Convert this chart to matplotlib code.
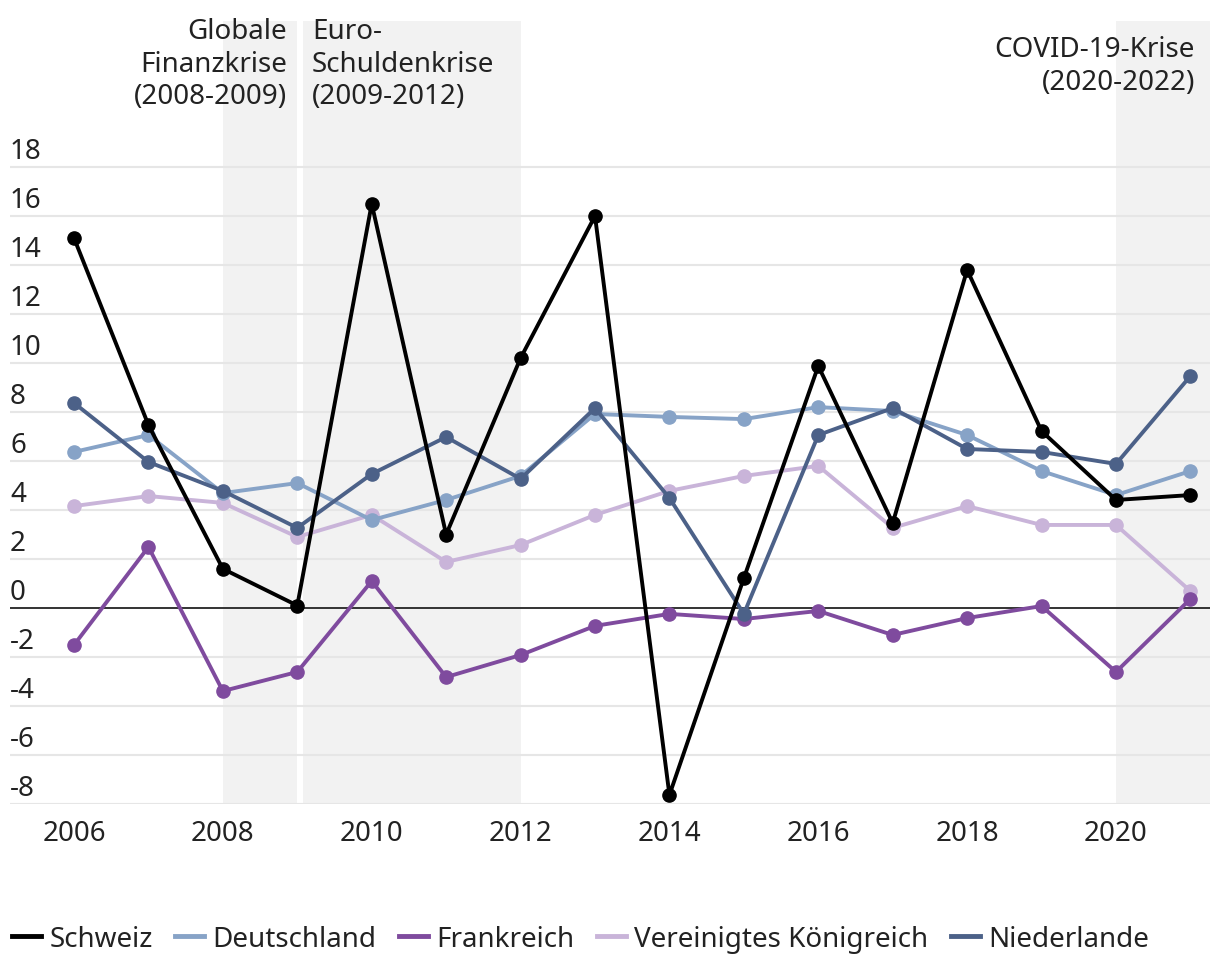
import matplotlib.pyplot as plt
from matplotlib.lines import Line2D
import matplotlib.transforms as mtransforms

plt.rcParams['font.family'] = ['Noto Sans', 'DejaVu Sans']

years = list(range(2006, 2022))

schweiz = [15.1, 7.47, 1.6, 0.1, 16.5, 3.0, 10.2, 16.0, -7.63, 1.22, 9.88, 3.47, 13.8, 7.22, 4.41, 4.61]
deutschland = [6.37, 7.06, 4.69, 5.1, 3.59, 4.41, 5.39, 7.92, 7.8, 7.71, 8.2, 8.04, 7.06, 5.59, 4.61, 5.59]
frankreich = [-1.51, 2.49, -3.39, -2.61, 1.1, -2.82, -1.92, -0.73, -0.24, -0.45, -0.12, -1.1, -0.41, 0.08, -2.61, 0.37]
uk = [4.16, 4.57, 4.29, 2.9, 3.8, 1.88, 2.57, 3.8, 4.78, 5.39, 5.8, 3.27, 4.16, 3.39, 3.39, 0.69]
niederlande = [8.37, 5.96, 4.78, 3.27, 5.47, 6.98, 5.27, 8.16, 4.49, -0.24, 7.06, 8.16, 6.49, 6.37, 5.88, 9.47]

y_ticks = list(range(-8, 19, 2))
x_ticks = [2006, 2008, 2010, 2012, 2014, 2016, 2018, 2020]

crises = [(2008, 2009), (2009.08, 2012), (2020, 2022)]

colors = {
    'Schweiz': '#000000',
    'Deutschland': '#87a3c7',
    'Frankreich': '#7f4b9e',
    'Vereinigtes Königreich': '#c9b4d9',
    'Niederlande': '#4c6188',
}
series = {
    'Schweiz': schweiz,
    'Deutschland': deutschland,
    'Frankreich': frankreich,
    'Vereinigtes Königreich': uk,
    'Niederlande': niederlande,
}
draw_order = ['Vereinigtes Königreich', 'Frankreich', 'Deutschland', 'Niederlande', 'Schweiz']

FS = 20
W, H = 1220, 970
fig = plt.figure(figsize=(W / 100, H / 100), dpi=100)
ax = fig.add_axes([10 / W, 1 - 805 / H, 1200 / W, (805 - 22) / H])

ax.set_xlim(2005.14, 2021.263)
ax.set_ylim(-8, 23.96)

# shaded crisis periods
for a, b in crises:
    ax.axvspan(a, b, color='#f2f2f2', zorder=0, lw=0)

# gridlines, y labels sit above them
trans = mtransforms.blended_transform_factory(ax.transAxes, ax.transData)
for v in y_ticks:
    if v == 0:
        ax.axhline(0, color='#333333', lw=1.4, zorder=1)
    else:
        ax.axhline(v, color='#e6e6e6', lw=1.5, zorder=0.5)
    ax.text(0, v + 0.08, str(v), transform=trans, ha='left', va='bottom', fontsize=FS, color='#222222')

for name in draw_order:
    ax.plot(years, series[name], color=colors[name], lw=2.8, marker='o', markersize=9.5, zorder=3)

for s in ax.spines.values():
    s.set_visible(False)
ax.set_yticks([])
ax.set_xticks(x_ticks)
ax.set_xticklabels([str(x) for x in x_ticks])
ax.tick_params(axis='x', length=0, pad=11, labelsize=FS, labelcolor='#222222')

# crisis labels
fig.text(287 / W, 1 - 18 / H, 'Globale\nFinanzkrise\n(2008-2009)', ha='right', va='top',
         fontsize=FS, color='#222222', linespacing=1.22)
fig.text(312 / W, 1 - 18 / H, 'Euro-\nSchuldenkrise\n(2009-2012)', ha='left', va='top',
         fontsize=FS, color='#222222', linespacing=1.22)
fig.text(1195 / W, 1 - 36 / H, 'COVID-19-Krise\n(2020-2022)', ha='right', va='top',
         fontsize=FS, color='#222222', linespacing=1.22)

handles = [Line2D([0], [0], color=colors[n], lw=3.5) for n in series]
fig.legend(handles, list(series.keys()), loc='center left', bbox_to_anchor=(12 / W, 1 - 940 / H),
           ncol=5, frameon=False, fontsize=FS, handlelength=1.05, handletextpad=0.3,
           columnspacing=0.8, borderaxespad=0, borderpad=0, labelcolor='#222222')

fig.savefig('out.png', dpi=100)
